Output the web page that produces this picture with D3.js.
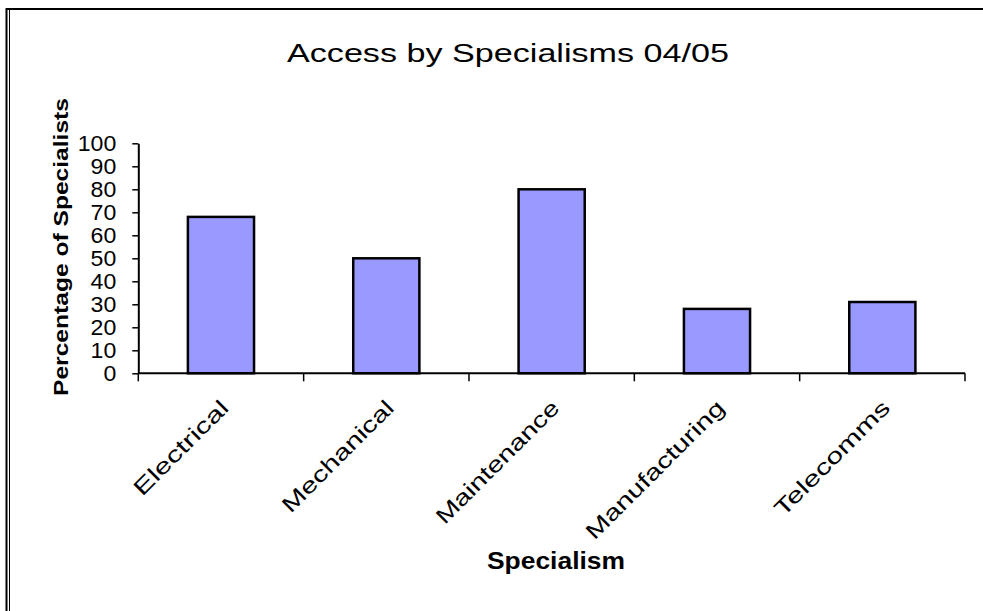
<!DOCTYPE html>
<html>
<head>
<meta charset="utf-8">
<script src="https://cdn.jsdelivr.net/npm/d3@7"></script>
<style>
  html, body { margin: 0; padding: 0; background: #fff; }
  svg { display: block; font-family: Arial, "Liberation Sans", sans-serif; }
</style>
</head>
<body>
<svg id="chart" width="983" height="611"></svg>
<script>
// Share of specialists with access, by specialism (2004/05)
const categories = ["Electrical", "Mechanical", "Maintenance", "Manufacturing", "Telecomms"];
const values = [68, 50, 80, 28, 31];
const yTicks = [0, 10, 20, 30, 40, 50, 60, 70, 80, 90, 100];
const titleText = "Access by Specialisms 04/05";
const xTitle = "Specialism";
const yTitle = "Percentage of Specialists";

const svg = d3.select("#chart");

// Frame around the chart area
svg.append("line").attr("x1", 6).attr("x2", 983).attr("y1", 9).attr("y2", 9)
  .attr("stroke", "#000").attr("stroke-width", 2);
svg.append("line").attr("x1", 6.5).attr("x2", 6.5).attr("y1", 8).attr("y2", 611)
  .attr("stroke", "#000").attr("stroke-width", 2);
svg.append("line").attr("x1", 9.5).attr("x2", 9.5).attr("y1", 10).attr("y2", 611)
  .attr("stroke", "#000").attr("stroke-width", 1);

const plot = { left: 138.3, right: 965, top: 143.3, bottom: 373.3 };

const x = d3.scaleBand()
  .domain(categories)
  .range([plot.left, plot.right])
  .paddingInner(0.6)
  .paddingOuter(0.3);

const y = d3.scaleLinear().domain([0, 100]).range([plot.bottom, plot.top]);

// Stretch text along its baseline by a factor
function stretch(sel, factor) {
  sel.each(function () {
    const len = this.getComputedTextLength();
    d3.select(this).attr("textLength", len * factor).attr("lengthAdjust", "spacingAndGlyphs");
  });
}

// Bars
svg.append("g").selectAll("rect")
  .data(values)
  .join("rect")
  .attr("x", (d, i) => x(categories[i]))
  .attr("width", x.bandwidth())
  .attr("y", d => y(d))
  .attr("height", d => y(0) - y(d))
  .attr("fill", "#9999FF")
  .attr("stroke", "#000")
  .attr("stroke-width", 2.5);

// Y axis
const yAxis = svg.append("g")
  .attr("transform", `translate(${plot.left},0)`)
  .call(d3.axisLeft(y).tickValues(yTicks).tickSize(6).tickPadding(16).tickSizeOuter(0));
yAxis.select(".domain").attr("stroke-width", 2);
yAxis.selectAll(".tick line").attr("stroke-width", 1.5);
yAxis.selectAll(".tick text")
  .attr("font-size", 22)
  .attr("font-family", "Arial, 'Liberation Sans', sans-serif")
  .attr("fill", "#000")
  .call(stretch, 1.05);

// X axis: baseline and category separators
const step = x.step();
const boundaries = d3.range(categories.length + 1).map(i => plot.left + i * step);
svg.append("line")
  .attr("x1", plot.left).attr("x2", plot.right)
  .attr("y1", y(0)).attr("y2", y(0))
  .attr("stroke", "#000").attr("stroke-width", 2);
svg.append("g").selectAll("line")
  .data(boundaries)
  .join("line")
  .attr("x1", d => d).attr("x2", d => d)
  .attr("y1", y(0)).attr("y2", y(0) + 8)
  .attr("stroke", "#000").attr("stroke-width", 1.5);

// Rotated category labels
const labelLen = { Electrical: 124, Mechanical: 148, Maintenance: 164, Manufacturing: 186, Telecomms: 153 };
svg.append("g").selectAll("text")
  .data(categories)
  .join("text")
  .attr("transform", d => `translate(${x(d) + x.bandwidth() / 2 + 9},${y(0) + 36}) rotate(-45)`)
  .attr("text-anchor", "end")
  .attr("font-size", 22)
  .attr("textLength", d => labelLen[d])
  .attr("lengthAdjust", "spacingAndGlyphs")
  .text(d => d);

// Titles
svg.append("text")
  .attr("x", 508).attr("y", 62)
  .attr("text-anchor", "middle")
  .attr("font-size", 26)
  .attr("textLength", 442)
  .attr("lengthAdjust", "spacingAndGlyphs")
  .text(titleText);

svg.append("text")
  .attr("x", 556).attr("y", 569)
  .attr("text-anchor", "middle")
  .attr("font-size", 24)
  .attr("font-weight", "bold")
  .attr("textLength", 138)
  .attr("lengthAdjust", "spacingAndGlyphs")
  .text(xTitle);

svg.append("text")
  .attr("transform", "translate(68,247) rotate(-90)")
  .attr("text-anchor", "middle")
  .attr("font-size", 21)
  .attr("font-weight", "bold")
  .attr("textLength", 298)
  .attr("lengthAdjust", "spacingAndGlyphs")
  .text(yTitle);
</script>
</body>
</html>
